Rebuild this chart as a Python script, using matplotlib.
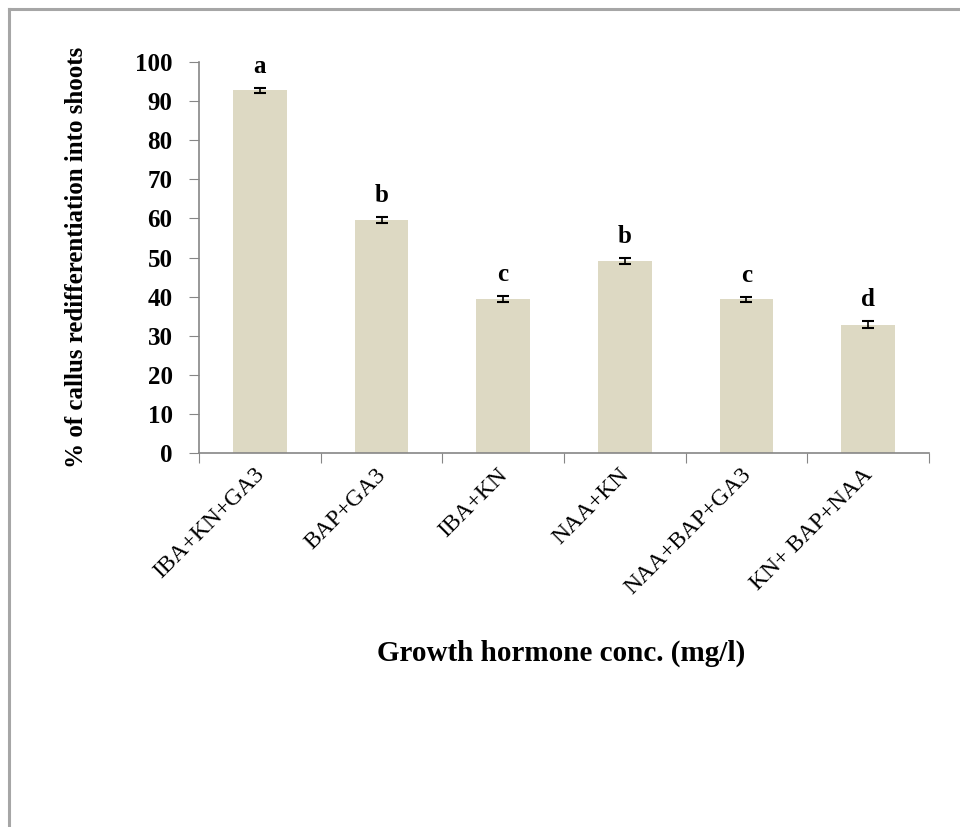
import matplotlib.pyplot as plt
import matplotlib.transforms as mtransforms
from matplotlib.lines import Line2D

# treatments, mean response and standard error
treatments = ['IBA+KN+GA3', 'BAP+GA3', 'IBA+KN', 'NAA+KN', 'NAA+BAP+GA3', 'KN+ BAP+NAA']
shoot_pct = [92.8, 59.6, 39.3, 49.2, 39.3, 32.8]
std_err = [0.6, 0.8, 0.8, 0.8, 0.6, 0.9]
groups = ['a', 'b', 'c', 'b', 'c', 'd']

serif = ['Liberation Serif', 'DejaVu Serif']
axis_grey = '#868686'

fig = plt.figure(figsize=(9.6, 8.27), dpi=100)
ax = fig.add_axes([0.2073, 0.4522, 0.7604, 0.4728])

x = range(len(treatments))
ax.bar(x, shoot_pct, width=0.44, color='#DDD9C3', zorder=2)
ax.errorbar(x, shoot_pct, yerr=std_err, fmt='none', ecolor='black',
            elinewidth=1.2, capsize=4.5, capthick=1.5, zorder=3)

for i, (v, e, g) in enumerate(zip(shoot_pct, std_err, groups)):
    ax.text(i, v + e + 2.5, g, ha='center', va='bottom', fontsize=18,
            fontweight='bold', family=serif)

ax.set_xlim(-0.5, len(treatments) - 0.5)
ax.set_ylim(0, 100)
ax.set_yticks(range(0, 101, 10))
ax.set_xticks([i - 0.5 for i in range(len(treatments) + 1)], minor=False)
ax.set_xticklabels([])
ax.set_xticks(list(x), minor=True)
ax.set_xticklabels(treatments, minor=True, rotation=45, ha='right',
                   rotation_mode='anchor', fontsize=17, family=serif)
ax.tick_params(axis='x', which='minor', length=0, pad=8)
# nudge the slanted labels a little to the left of each bar centre
shift = mtransforms.ScaledTranslation(-6 / 100, 0, fig.dpi_scale_trans)
for lab in ax.xaxis.get_minorticklabels():
    lab.set_transform(lab.get_transform() + shift)
ax.tick_params(axis='x', which='major', length=7, color=axis_grey, direction='out')
ax.tick_params(axis='y', length=7, color=axis_grey, direction='out', pad=12)
for lab in ax.get_yticklabels():
    lab.set_fontsize(18)
    lab.set_fontweight('bold')
    lab.set_family(serif)

for side in ['top', 'right']:
    ax.spines[side].set_visible(False)
for side in ['left', 'bottom']:
    ax.spines[side].set_color(axis_grey)
    ax.spines[side].set_linewidth(1.2)

ax.set_ylabel('% of callus redifferentiation into shoots', fontsize=18,
              fontweight='bold', family=serif, labelpad=34)
fig.text(0.585, 0.21, 'Growth hormone conc. (mg/l)', ha='center', va='center',
         fontsize=21, fontweight='bold', family=serif)

# outer frame along top and left edge
fig.add_artist(Line2D([0.0094, 1.0], [0.989, 0.989], color='#A6A6A6', lw=2.2,
                      transform=fig.transFigure))
fig.add_artist(Line2D([0.0094, 0.0094], [0.0, 0.989], color='#A6A6A6', lw=2.2,
                      transform=fig.transFigure))

fig.savefig('out.png', dpi=100)
